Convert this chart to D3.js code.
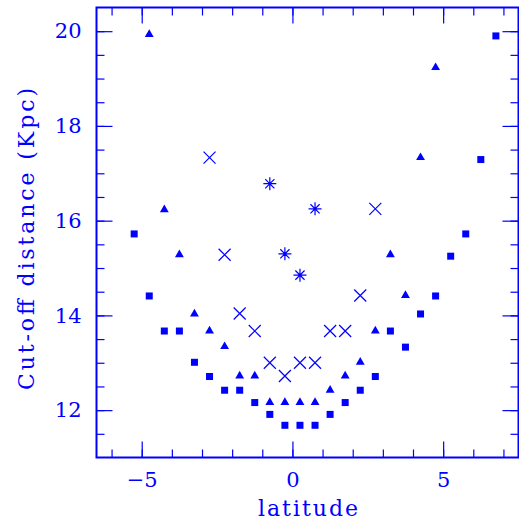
<!DOCTYPE html>
<html>
<head>
<meta charset="utf-8">
<script src="https://cdn.jsdelivr.net/npm/d3@7"></script>
<style>
  html, body { margin: 0; padding: 0; background: #fff; }
  svg { display: block; }
  text { font-family: "DejaVu Serif", "Liberation Serif", serif; fill: #0000ff; }
</style>
</head>
<body>
<svg id="chart" width="519" height="523"></svg>
<script>
// Cut-off distance versus galactic latitude, four sample groups
const squareLat  = [-5.25, -4.75, -4.25, -3.75, -3.25, -2.75, -2.25, -1.75, -1.25, -0.75, -0.25, 0.25, 0.75, 1.25, 1.75, 2.25, 2.75, 3.25, 3.75, 4.25, 4.75, 5.25, 5.75, 6.25, 6.75];
const squareDist = [15.72, 14.41, 13.67, 13.67, 13.01, 12.71, 12.42, 12.42, 12.16, 11.91, 11.68, 11.68, 11.68, 11.91, 12.16, 12.42, 12.71, 13.67, 13.33, 14.03, 14.41, 15.25, 15.72, 17.29, 19.9];

const triangleLat  = [-4.75, -4.25, -3.75, -3.25, -2.75, -2.25, -1.75, -1.25, -0.75, -0.25, 0.25, 0.75, 1.25, 1.75, 2.25, 2.75, 3.25, 3.75, 4.25, 4.75];
const triangleDist = [19.95, 16.25, 15.3, 14.05, 13.69, 13.36, 12.74, 12.74, 12.18, 12.18, 12.18, 12.18, 12.44, 12.74, 13.03, 13.69, 15.3, 14.44, 17.35, 19.25];

const crossLat  = [-2.75, -2.25, -1.75, -1.25, -0.75, -0.25, 0.25, 0.75, 1.25, 1.75, 2.25, 2.75];
const crossDist = [17.33, 15.28, 14.04, 13.67, 13.0, 12.72, 13.0, 13.0, 13.67, 13.67, 14.42, 16.25];

const starLat  = [-0.75, -0.25, 0.25, 0.75];
const starDist = [16.78, 15.3, 14.85, 16.25];

const xMajorTicks = [-5, 0, 5];
const yMajorTicks = [12, 14, 16, 18, 20];

const blue = "#0000ff";
const svg = d3.select("#chart");

const x = d3.scaleLinear().domain([-6.5, 7.5]).range([96.5, 518.5]);
const y = d3.scaleLinear().domain([11, 20.5]).range([457.5, 7.5]);

const xMinor = d3.range(-6, 8, 1);
const yMinor = d3.range(11.5, 20.5, 0.5);

function styleAxis(g) {
  g.select(".domain").remove();
  g.selectAll(".tick line").attr("stroke", blue).attr("stroke-width", 1.2);
  g.selectAll(".tick text").attr("fill", blue)
    .style("font-family", '"DejaVu Serif", "Liberation Serif", serif')
    .style("font-size", "21px");
}

// bottom axis: minor ticks, then majors with labels
svg.append("g").attr("transform", `translate(0,${y(11)})`)
  .call(d3.axisBottom(x).tickValues(xMinor).tickSize(-8).tickFormat(""))
  .call(styleAxis);
svg.append("g").attr("transform", `translate(0,${y(11)})`)
  .call(d3.axisBottom(x).tickValues(xMajorTicks).tickSize(-16).tickPadding(15).tickFormat(d3.format("d")))
  .call(styleAxis);

// top axis
svg.append("g").attr("transform", `translate(0,${y(20.5)})`)
  .call(d3.axisTop(x).tickValues(xMinor).tickSize(-8).tickFormat(""))
  .call(styleAxis);
svg.append("g").attr("transform", `translate(0,${y(20.5)})`)
  .call(d3.axisTop(x).tickValues(xMajorTicks).tickSize(-16).tickFormat(""))
  .call(styleAxis);

// left axis
svg.append("g").attr("transform", `translate(${x(-6.5)},0)`)
  .call(d3.axisLeft(y).tickValues(yMinor).tickSize(-8).tickFormat(""))
  .call(styleAxis);
svg.append("g").attr("transform", `translate(${x(-6.5)},0)`)
  .call(d3.axisLeft(y).tickValues(yMajorTicks).tickSize(-16).tickPadding(15).tickFormat(d3.format("d")))
  .call(styleAxis);

// right axis
svg.append("g").attr("transform", `translate(${x(7.5)},0)`)
  .call(d3.axisRight(y).tickValues(yMinor).tickSize(-8).tickFormat(""))
  .call(styleAxis);
svg.append("g").attr("transform", `translate(${x(7.5)},0)`)
  .call(d3.axisRight(y).tickValues(yMajorTicks).tickSize(-16).tickFormat(""))
  .call(styleAxis);

// frame
svg.append("rect")
  .attr("x", x(-6.5)).attr("y", y(20.5))
  .attr("width", x(7.5) - x(-6.5)).attr("height", y(11) - y(20.5))
  .attr("fill", "none").attr("stroke", blue).attr("stroke-width", 2);

// axis titles
svg.append("text")
  .attr("x", 308).attr("y", 516)
  .attr("text-anchor", "middle")
  .attr("textLength", 100).attr("lengthAdjust", "spacing")
  .style("font-size", "22px")
  .text("latitude");

svg.append("text")
  .attr("transform", "translate(34,239) rotate(-90)")
  .attr("text-anchor", "middle")
  .attr("textLength", 302).attr("lengthAdjust", "spacing")
  .style("font-size", "22px")
  .text("Cut-off distance (Kpc)");

const marks = svg.append("g");

// filled squares
marks.selectAll("rect.sq").data(d3.zip(squareLat, squareDist)).join("rect")
  .attr("class", "sq")
  .attr("x", d => x(d[0]) - 3.5).attr("y", d => y(d[1]) - 3.5)
  .attr("width", 7).attr("height", 7)
  .attr("fill", blue);

// filled triangles
const tri = d3.symbol().type(d3.symbolTriangle).size(34);
marks.selectAll("path.tri").data(d3.zip(triangleLat, triangleDist)).join("path")
  .attr("class", "tri")
  .attr("transform", d => `translate(${x(d[0])},${y(d[1]) + 0.8})`)
  .attr("d", tri)
  .attr("fill", blue);

// diagonal crosses
marks.selectAll("path.cr").data(d3.zip(crossLat, crossDist)).join("path")
  .attr("class", "cr")
  .attr("transform", d => `translate(${x(d[0])},${y(d[1])})`)
  .attr("d", "M-6,-6L6,6M-6,6L6,-6")
  .attr("stroke", blue).attr("stroke-width", 1.2).attr("fill", "none");

// eight-armed asterisks
marks.selectAll("path.st").data(d3.zip(starLat, starDist)).join("path")
  .attr("class", "st")
  .attr("transform", d => `translate(${x(d[0])},${y(d[1])})`)
  .attr("d", "M0,-6.5L0,6.5M-6.5,0L6.5,0M-4.6,-4.6L4.6,4.6M-4.6,4.6L4.6,-4.6")
  .attr("stroke", blue).attr("stroke-width", 1.2).attr("fill", "none");
</script>
</body>
</html>
